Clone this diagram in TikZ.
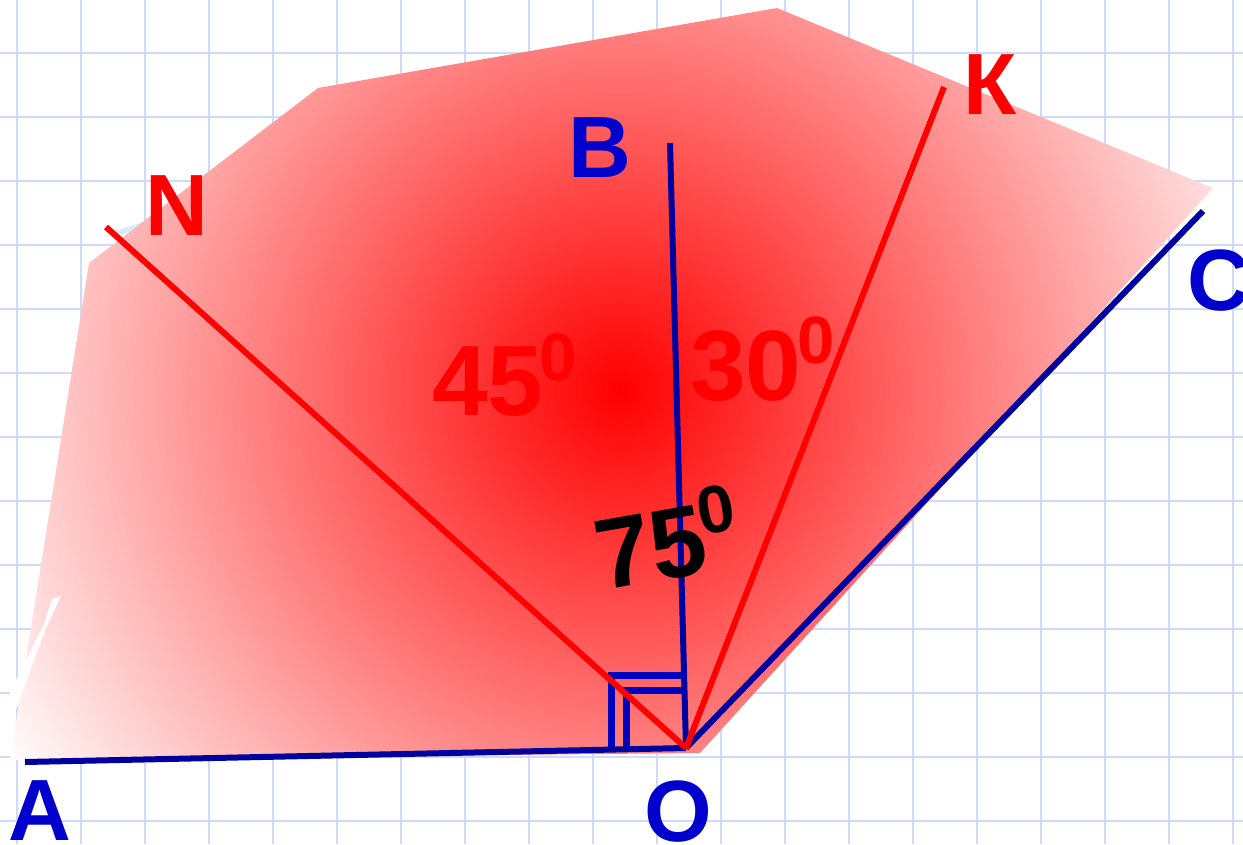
\documentclass[tikz,border=0pt]{standalone}
\usepackage{fontspec}
\setmainfont{Liberation Sans}
\definecolor{gridblue}{RGB}{206,218,250}
\definecolor{lineblue}{RGB}{0,0,160}
\definecolor{labelblue}{RGB}{0,0,204}
\definecolor{markblue}{RGB}{0,0,190}
\definecolor{skyblue}{RGB}{215,235,250}
\pgfdeclareradialshading{redglow}{\pgfpointorigin}{color(0bp)=(red); color(25bp)=(white); color(50bp)=(white)}
\begin{document}
\begin{tikzpicture}[x=1pt,y=-1pt,
  gridline/.style={draw=gridblue,line width=2pt},
  blueline/.style={draw=lineblue,line width=6pt},
  redline/.style={draw=red,line width=6pt},
  rmark/.style={draw=markblue,line width=7.5pt},
  bluelabel/.style={text=labelblue,inner sep=0pt,font=\fontsize{87}{90}\selectfont\bfseries},
  redlabel/.style={text=red,inner sep=0pt,font=\fontsize{87}{90}\selectfont\bfseries},
  anglelabel/.style={inner sep=0pt,anchor=base west,font=\fontsize{100}{100}\selectfont\bfseries}]
\useasboundingbox (0,0) rectangle (1243,844);
\fill[white] (0,0) rectangle (1243,844);
% grid
\foreach \i in {0,...,19} \draw[gridline] ({16.7+64.02*\i},0) -- ({16.7+64.02*\i},844);
\foreach \j in {0,...,12} \draw[gridline] (0,{52.7+64*\j}) -- (1243,{52.7+64*\j});
% light blue sliver
\fill[skyblue] (112,232) -- (146,221) -- (150,224) -- (118,236) -- cycle;
% shaded polygon
\begin{scope}
\clip (10,760) -- (89,263) -- (318,88) -- (777,8) -- (1213,188) -- (700,753) -- cycle;
\shade[shading=redglow] (620,390) circle (720pt);
\end{scope}
% white artifact
\fill[white] (61,596) -- (52,599) -- (44,624) -- (10,692) -- (11,724) -- (15,712) -- (46,628) -- cycle;
% points
\coordinate (O) at (686,748);
\coordinate (Ae) at (25,762);
\coordinate (Be) at (670,143);
\coordinate (Ce) at (1203,211);
\coordinate (Ne) at (106,227);
\coordinate (Ke) at (944,87);
% right-angle marks
\draw[rmark] (611.7,750) -- (611.7,675.5) -- (684,675.5);
\draw[rmark] (626.7,750) -- (626.7,690.5) -- (684,690.5);
% blue rays
\draw[blueline] (Ae) -- (O);
\draw[blueline] (O) -- (Be);
\draw[blueline] (O) -- (Ce);
% red rays
\draw[redline] (O) -- (Ne);
\draw[redline] (O) -- (Ke);
% labels
\node[bluelabel] (A) at (40,811) {A};
\node[bluelabel] (Ol) at (678,812) {O};
\node[bluelabel] (B) at (600,148) {B};
\node[bluelabel] (C) at (1219,281) {C};
\node[redlabel] (N) at (177,206) {N};
\node[redlabel] (K) at (990,85) {К};
\node[anglelabel,text=red] (a45) at (432,415) {45\kern-4pt\raisebox{35pt}{\fontsize{67}{67}\selectfont 0}};
\node[anglelabel,text=red] (a30) at (690,400) {30\kern-4pt\raisebox{37pt}{\fontsize{67}{67}\selectfont 0}};
\node[anglelabel,text=black,rotate=10] (a75) at (602,591) {75\kern-4pt\raisebox{37pt}{\fontsize{67}{67}\selectfont 0}};
\end{tikzpicture}
\end{document}
